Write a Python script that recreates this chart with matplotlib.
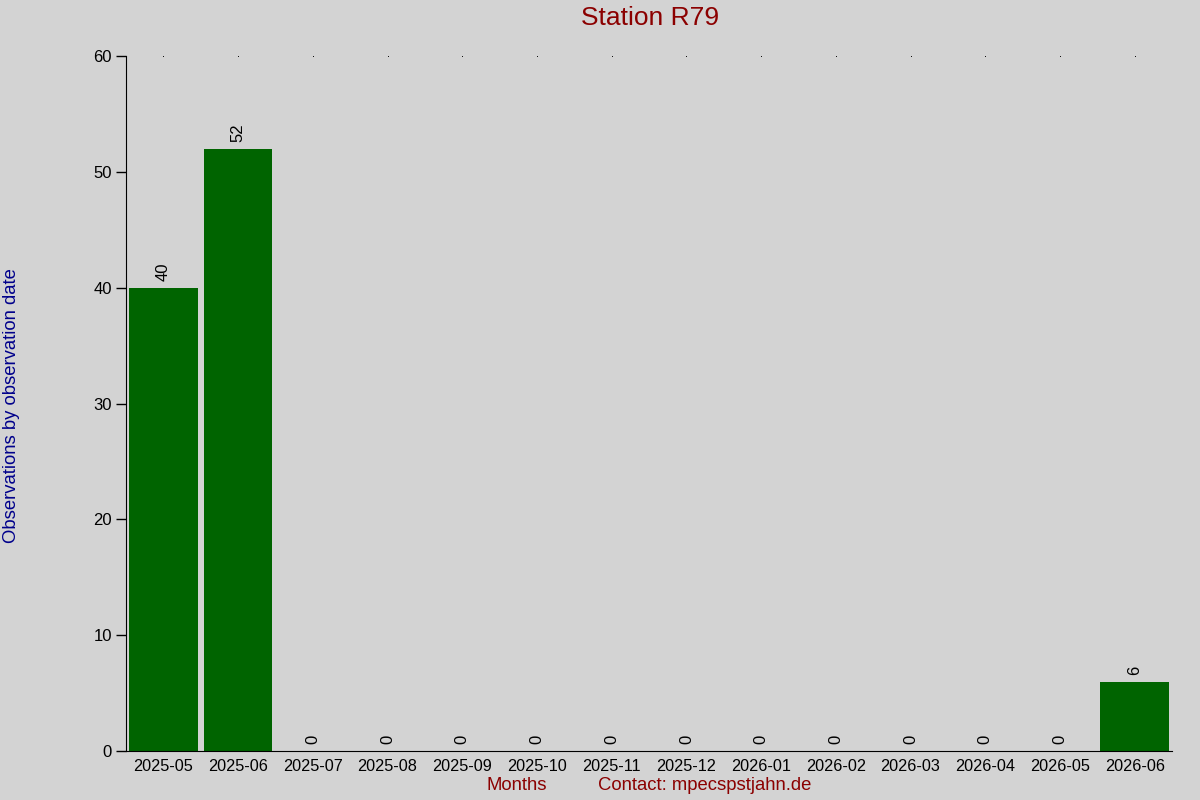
import matplotlib
matplotlib.use("Agg")
import matplotlib.pyplot as plt

months = ["2025-05", "2025-06", "2025-07", "2025-08", "2025-09", "2025-10", "2025-11",
          "2025-12", "2026-01", "2026-02", "2026-03", "2026-04", "2026-05", "2026-06"]
counts = [40, 52, 0, 0, 0, 0, 0, 0, 0, 0, 0, 0, 0, 6]
yticks = [0, 10, 20, 30, 40, 50, 60]

plt.rcParams['font.family'] = ['Liberation Sans', 'DejaVu Sans']
bg = '#d3d3d3'
fig = plt.figure(figsize=(12, 8), dpi=100, facecolor=bg)
ax = fig.add_axes([0.105, 0.06125, 0.8717, 0.86875], facecolor=bg)

x = list(range(len(months)))
ax.bar(x, counts, width=0.92, color='#006400')
for xi, c in zip(x, counts):
    ax.annotate(str(c), (xi, c), xytext=(0, 5), textcoords='offset points',
                rotation=90, ha='center', va='bottom', fontsize=12, color='black')

ax.set_xlim(-0.5, len(months) - 0.5)
ax.set_ylim(0, 60)
ax.set_yticks(yticks)
ax.set_xticks(x)
ax.set_xticklabels(months, fontsize=11.7)
ax.tick_params(axis='y', labelsize=12, length=7, width=1, pad=3)
ax.tick_params(axis='x', length=0, pad=6)
for s in ['top', 'right']:
    ax.spines[s].set_visible(False)

# tiny top dots
for xi in x:
    ax.plot(xi, 60, marker='s', markersize=0.6, markeredgewidth=0, color='black', clip_on=False)

fig.text(0.5417, 0.9775, "Station R79", ha='center', va='center', fontsize=19, color='#8b0000')
fig.text(0.0095, 0.4925, "Observations by observation date", rotation=90, ha='center', va='center',
         fontsize=13.3, color='#00008b')
fig.text(0.431, 0.0175, "Months", ha='center', va='center', fontsize=13.3, color='#8b0000')
fig.text(0.587, 0.0175, "Contact: mpecspstjahn.de", ha='center', va='center', fontsize=13.3, color='#8b0000')

fig.savefig("out.png", dpi=100, facecolor=bg)
